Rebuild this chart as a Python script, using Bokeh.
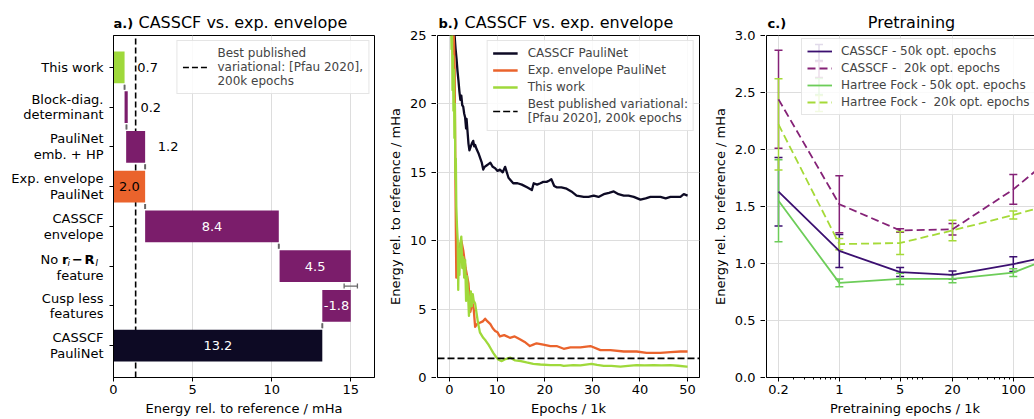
import numpy as np
from bokeh.plotting import figure
from bokeh.layouts import row, column
from bokeh.models import (ColumnDataSource, Range1d, FixedTicker, Legend, LegendItem,
                          Whisker, TeeHead, CustomJSTickFormatter)
from bokeh.core.properties import value
from bokeh.embed import file_html
from bokeh.resources import INLINE

FONT = "DejaVu Sans"

# ---------------- data: panel a (waterfall) ----------------
a_categories = ["CASSCF\nPauliNet", "Cusp less\nfeatures", "No r_i \u2212 R_I\nfeature",
                "CASSCF\nenvelope", "Exp. envelope\nPauliNet", "PauliNet\nemb. + HP",
                "Block-diag.\ndeterminant", "This work"]
a_left = [0.0, 13.2, 10.5, 2.0, 0.0, 0.8, 0.7, 0.0]
a_right = [13.2, 15.0, 15.0, 10.45, 2.0, 2.0, 0.9, 0.7]
a_bar_labels = ["13.2", "-1.8", "4.5", "8.4", "2.0", "1.2", "0.2", "0.7"]
a_conn_x = [13.2, 15.0, 10.45, 2.0, 2.0, 0.82, 0.7]
a_conn_err = [0.02, 0.42, 0.02, 0.02, 0.02, 0.02, 0.02]
best_published = 1.4

# ---------------- data: panel b (training curves, epoch in 1k, mHa) ----------------
casscf_curve = [(0.8, 27.0), (1.05, 25.2), (1.3, 24.0), (1.5, 23.3), (1.7, 22.4), (1.9, 21.7),
                (2.1, 20.9), (2.3, 20.3), (2.5, 20.6), (2.7, 19.9), (2.9, 19.8), (3.1, 19.3),
                (3.3, 19.0), (3.5, 18.2), (3.6, 18.9), (3.8, 18.0), (4.0, 17.1), (4.2, 16.6),
                (4.4, 16.8), (4.7, 17.1), (5.0, 17.3), (5.2, 16.9), (5.4, 17.0), (5.7, 16.7),
                (6.1, 16.4), (6.5, 16.0), (6.8, 15.7), (7.1, 15.2), (7.4, 15.4), (7.8, 15.5),
                (8.2, 15.6), (8.6, 15.7), (9.1, 15.4), (9.6, 15.3), (10.1, 15.1), (10.6, 15.2),
                (11.2, 15.0), (11.7, 15.4), (12.4, 14.6), (13.4, 14.2), (14.3, 14.2), (15.2, 14.1),
                (16.3, 13.9), (17.3, 13.7), (17.7, 14.2), (18.4, 14.1), (19.1, 14.2), (19.7, 14.3),
                (20.4, 14.3), (21.0, 14.4), (21.4, 14.5), (22.0, 14.0), (22.5, 13.9), (23.5, 13.9),
                (24.6, 13.8), (25.6, 13.6), (26.7, 13.3), (28.2, 13.2), (29.2, 13.2), (30.3, 13.3),
                (31.3, 13.2), (32.4, 13.4), (33.5, 13.5), (34.5, 13.6), (35.5, 13.4), (36.6, 13.3),
                (37.6, 13.3), (38.7, 13.2), (40.1, 13.0), (41.2, 13.1), (42.2, 13.2), (43.3, 13.2),
                (44.3, 13.2), (45.4, 13.1), (46.4, 13.2), (47.7, 13.2), (48.5, 13.2), (49.2, 13.4),
                (50.0, 13.3)]
exp_env_curve = [(0.7, 28.0), (0.95, 24.5), (1.1, 22.5), (1.25, 15.0), (1.35, 11.0), (1.45, 7.3),
                 (1.6, 9.5), (2.0, 9.5), (2.5, 10.0), (2.9, 9.3), (3.4, 8.0), (4.0, 6.9),
                 (4.4, 4.8), (4.8, 5.5), (5.1, 5.0), (5.4, 3.7), (5.8, 3.9), (6.4, 4.0),
                 (7.0, 4.1), (7.5, 4.3), (8.0, 4.1), (8.6, 3.9), (9.1, 3.6), (9.6, 3.4),
                 (10.1, 3.3), (10.6, 3.0), (11.5, 3.1), (12.7, 2.9), (13.7, 3.0), (14.8, 2.8),
                 (15.8, 2.6), (16.9, 2.3), (17.6, 2.4), (18.3, 2.5), (19.7, 2.4), (21.2, 2.3),
                 (22.5, 2.3), (24.0, 2.1), (25.4, 2.2), (27.5, 2.2), (29.6, 2.3), (31.7, 2.0),
                 (33.8, 2.0), (36.6, 1.9), (39.3, 1.9), (41.4, 1.8), (44.3, 1.8), (46.4, 1.85),
                 (48.5, 1.9), (50.0, 1.9)]
this_work_curve = [(0.3, 27.0), (0.45, 24.0), (0.55, 25.5), (0.65, 21.0), (0.75, 23.5), (0.85, 19.5),
                   (0.95, 22.5), (1.05, 17.5), (1.15, 20.0), (1.25, 14.5), (1.35, 16.0), (1.45, 12.5),
                   (1.6, 11.0), (1.75, 10.0), (1.85, 6.4), (1.95, 8.8), (2.1, 7.5), (2.3, 9.8),
                   (2.5, 10.3), (2.7, 8.0), (2.9, 8.8), (3.1, 7.3), (3.3, 8.6), (3.5, 5.6),
                   (3.7, 7.4), (3.9, 6.2), (4.1, 4.5), (4.3, 5.4), (4.5, 6.3), (4.7, 5.2),
                   (4.9, 6.1), (5.1, 5.6), (5.4, 5.4), (5.7, 4.7), (6.0, 4.0), (6.4, 3.3),
                   (7.1, 2.9), (7.6, 2.7), (8.2, 2.4), (8.7, 2.1), (9.2, 1.8), (9.8, 1.5),
                   (10.3, 1.3), (11.0, 1.2), (11.8, 1.35), (12.8, 1.45), (13.8, 1.25), (15.0, 1.2),
                   (16.2, 1.1), (17.6, 1.0), (19.1, 0.95), (21.2, 0.9), (23.3, 0.9), (24.0, 0.85),
                   (26.0, 0.9), (27.5, 0.88), (29.8, 1.0), (31.0, 0.92), (32.4, 0.85), (34.0, 0.85),
                   (35.9, 0.8), (37.5, 0.85), (39.3, 0.9), (41.0, 0.88), (42.9, 0.9), (44.5, 0.88),
                   (46.4, 0.9), (48.0, 0.86), (49.8, 0.8), (50.0, 0.8)]

# ---------------- data: panel c (pretraining) ----------------
pre_epochs = [0.2, 1, 5, 20, 100, 200]
pre_tick_labels = ["0.2", "1", "5", "20", "100"]
cas50_mean = [1.63, 1.11, 0.925, 0.90, 0.995, 1.045]
cas50_err = [0.30, 0.145, 0.04, 0.035, 0.065, 0.03]
cas20_mean = [2.44, 1.52, 1.29, 1.30, 1.65, 1.84]
cas20_err = [0.43, 0.25, 0.015, 0.05, 0.13, 0.11]
hf50_mean = [1.55, 0.83, 0.865, 0.866, 0.92, 1.01]
hf50_err = [0.36, 0.035, 0.05, 0.035, 0.035, 0.02]
hf20_mean = [2.22, 1.17, 1.18, 1.29, 1.425, 1.49]
hf20_err = [0.40, 0.05, 0.10, 0.09, 0.035, 0.11]

# ---------------- styling ----------------
FH = 342          # frame height (px)
TH = 34           # title strip height (px)
BB = 42           # bottom border (px)
GRID = "#dddddd"
C_DARK = "#0d0a24"
C_PURPLE = "#7b1d6b"
C_ORANGE = "#ea632c"
C_LIME = "#9fd93b"
a_colors = [C_DARK, C_PURPLE, C_PURPLE, C_PURPLE, C_ORANGE, C_PURPLE, C_PURPLE, C_LIME]
a_text_colors = ["white", "white", "white", "white", "black", "black", "black", "black"]


def style(p, xstandoff=3, ystandoff=5):
    for ax in p.axis:
        ax.major_label_text_font = FONT
        ax.major_label_text_font_size = "13px"
        ax.axis_label_text_font = FONT
        ax.axis_label_text_font_size = "13px"
        ax.axis_label_text_font_style = "normal"
        ax.major_tick_out = 4
        ax.major_tick_in = 0
        ax.minor_tick_line_color = None
        ax.axis_line_color = "black"
        ax.major_tick_line_color = "black"
        ax.major_label_text_color = "black"
        ax.axis_label_text_color = "black"
        ax.axis_label_standoff = 4
        ax.major_label_standoff = xstandoff if ax in p.xaxis else ystandoff
    p.outline_line_color = "black"
    p.outline_line_width = 1
    p.outline_line_alpha = 1
    p.xgrid.grid_line_color = GRID
    p.ygrid.grid_line_color = GRID


def blank_fig(frame_w, frame_h, x_range, y_range, left=0, right=0, top=0, bottom=0):
    f = figure(title=None, frame_width=frame_w, frame_height=frame_h, x_range=x_range, y_range=y_range,
               output_backend="svg", toolbar_location=None,
               min_border_left=left, min_border_right=right, min_border_top=top,
               min_border_bottom=bottom, x_axis_location=None, y_axis_location=None)
    f.outline_line_color = None
    f.grid.grid_line_color = None
    f.background_fill_color = "white"
    f.border_fill_color = "white"
    return f


def title_fig(frame_w, left, right, items):
    # strip above a panel whose frame coincides horizontally with the panel frame;
    # x in px from the frame's left edge, y = text centre in px from the strip bottom
    t = blank_fig(frame_w, TH, Range1d(0, frame_w), Range1d(0, TH), left=left, right=right)
    for text, x, size, bold, align in items:
        yc = TH - (22.0 if not bold else 22.5)
        t.text(x=[x], y=[yc], text=[text], text_font=value(FONT), text_font_size=size,
               text_font_style="bold" if bold else "normal", text_align=align,
               text_baseline="middle", text_color="black")
    return t


def axis_fig(y_range, left, ticks, label, formatter=None):
    # separate full-height strip carrying the y axis, so the top tick label has room
    f = figure(title=None, frame_width=1, frame_height=FH, x_range=Range1d(0, 1), y_range=y_range,
               output_backend="svg", toolbar_location=None, min_border_left=left,
               min_border_right=0, min_border_top=TH + 1, min_border_bottom=BB,
               x_axis_location=None)
    f.outline_line_color = None
    f.grid.grid_line_color = None
    f.background_fill_color = "white"
    f.border_fill_color = "white"
    ax = f.yaxis[0]
    ax.ticker = FixedTicker(ticks=ticks)
    if formatter is not None:
        ax.formatter = formatter
    ax.axis_label = label
    ax.major_label_text_font = FONT
    ax.major_label_text_font_size = "13px"
    ax.axis_label_text_font = FONT
    ax.axis_label_text_font_size = "13px"
    ax.axis_label_text_font_style = "normal"
    ax.major_tick_out = 4
    ax.major_tick_in = 1
    ax.minor_tick_line_color = None
    ax.axis_line_color = None
    ax.major_tick_line_color = "black"
    ax.major_label_text_color = "black"
    ax.axis_label_text_color = "black"
    ax.axis_label_standoff = 4
    ax.major_label_standoff = 5
    return f


def make_legend(items, location, line_h=1.2, standoff=10):
    return Legend(items=items, location=location, padding=5, margin=5, spacing=3,
                  glyph_width=25, glyph_height=14, label_height=14, label_standoff=standoff,
                  label_text_font=FONT, label_text_font_size="12px",
                  label_text_line_height=line_h,
                  border_line_color="#cccccc", border_line_width=1,
                  background_fill_color="white", background_fill_alpha=0.85)


# ================= panel a =================
A_LAB_W = 104
pa = figure(title=None, frame_width=261, frame_height=FH, x_range=Range1d(0, 16.5),
            y_range=Range1d(-0.8, 7.8),
            output_backend="svg", toolbar_location=None, min_border_left=9, min_border_right=10,
            min_border_top=1, min_border_bottom=BB)
idx = list(range(len(a_categories)))
src_a = ColumnDataSource(dict(y=idx, left=a_left, right=a_right, color=a_colors))
best_a = pa.line(x=[best_published, best_published], y=[-0.8, 7.8], line_color="black",
                 line_dash="6 3", line_width=1.6)
pa.hbar(y="y", left="left", right="right", height=0.8, fill_color="color", line_color=None, source=src_a)

inside = [i for i in idx if (a_right[i] - a_left[i]) > 1.5]
outside = [i for i in idx if (a_right[i] - a_left[i]) <= 1.5]
src_in = ColumnDataSource(dict(x=[(a_left[i] + a_right[i]) / 2 for i in inside], y=inside,
                               text=[a_bar_labels[i] for i in inside],
                               c=[a_text_colors[i] for i in inside]))
src_out = ColumnDataSource(dict(x=[a_right[i] + 0.8 for i in outside], y=outside,
                                text=[a_bar_labels[i] for i in outside],
                                c=[a_text_colors[i] for i in outside]))
pa.text(x="x", y="y", text="text", text_color="c", source=src_in, text_align="center",
        text_baseline="middle", text_font=value(FONT), text_font_size="13px")
pa.text(x="x", y="y", text="text", text_color="c", source=src_out, text_align="left",
        text_baseline="middle", text_font=value(FONT), text_font_size="13px")

conn_y = [i + 0.5 for i in range(len(a_conn_x))]
src_conn = ColumnDataSource(dict(y=conn_y, lo=[x - e for x, e in zip(a_conn_x, a_conn_err)],
                                 hi=[x + e for x, e in zip(a_conn_x, a_conn_err)]))
pa.add_layout(Whisker(base="y", lower="lo", upper="hi", dimension="width", source=src_conn,
                      line_color="#666666", line_width=1.3, level="overlay",
                      upper_head=TeeHead(size=5, line_color="#666666", line_width=1.3),
                      lower_head=TeeHead(size=5, line_color="#666666", line_width=1.3)))

pa.add_layout(make_legend([LegendItem(label="Best published\nvariational: [Pfau 2020],\n200k epochs",
                                      renderers=[best_a])], "top_right", line_h=1.05))
style(pa, 3, 0)
pa.ygrid.grid_line_color = None
pa.xaxis.ticker = FixedTicker(ticks=[0, 5, 10, 15])
pa.xaxis.axis_label = "Energy rel. to reference / mHa"
pa.yaxis.ticker = FixedTicker(ticks=idx)
pa.yaxis.major_label_overrides = {i: "" for i in idx}

# category labels strip (left of panel a), sharing the y range
la = blank_fig(A_LAB_W, FH, Range1d(0, A_LAB_W), pa.y_range, top=1, bottom=BB)
regular = [i for i in idx if i != 2]
src_cat = ColumnDataSource(dict(x=[A_LAB_W - 1] * len(regular), y=regular,
                                text=[a_categories[i] for i in regular]))
la.text(x="x", y="y", text="text", source=src_cat, text_align="right", text_baseline="middle",
        text_font=value(FONT), text_font_size="13px", text_line_height=1.05, text_color="black")
# "No r_i - R_I / feature" with bold vectors and subscripts
pieces = [("No", 40, "13px", "normal", -7), ("r", 61.5, "13px", "bold", -7),
          ("i", 67.0, "9px", "italic", -3), ("\u2212", 71.5, "13px", "bold", -7),
          ("R", 84, "13px", "bold", -7), ("I", 95, "9px", "italic", -3)]
for txt, px, size, st, off in pieces:
    la.text(x=[px], y=[2], text=[txt], text_align="left", text_baseline="middle", y_offset=off,
            text_font=value(FONT), text_font_size=size, text_font_style=st, text_color="black")
la.text(x=[A_LAB_W - 1], y=[2], text=["feature"], text_align="right", text_baseline="middle",
        y_offset=9, text_font=value(FONT), text_font_size="13px", text_color="black")

ta = title_fig(261, A_LAB_W + 9, 10, [("a.)", 0, "13px", True, "left"),
                                      ("CASSCF vs. exp. envelope", 25, "16px", False, "left")])
panel_a = column(ta, row(la, pa))

# ================= panel b =================
pb = figure(title=None, frame_width=262, frame_height=FH, x_range=Range1d(-2.5, 52.5),
            y_range=Range1d(0, 25), y_axis_location=None,
            output_backend="svg", toolbar_location=None, min_border_left=1, min_border_right=10,
            min_border_top=1, min_border_bottom=BB)
rb = []
for curve, col in [(casscf_curve, C_DARK), (exp_env_curve, C_ORANGE), (this_work_curve, C_LIME)]:
    xs = [c[0] for c in curve]
    ys = [c[1] for c in curve]
    rb.append(pb.line(xs, ys, line_color=col, line_width=2.3, line_join="round"))
best_b = pb.line(x=[-2.5, 52.5], y=[best_published, best_published], line_color="black",
                 line_dash="7 3", line_width=1.6)
pb.add_layout(make_legend([
    LegendItem(label="CASSCF PauliNet", renderers=[rb[0]]),
    LegendItem(label="Exp. envelope PauliNet", renderers=[rb[1]]),
    LegendItem(label="This work", renderers=[rb[2]]),
    LegendItem(label="Best published variational:\n[Pfau 2020], 200k epochs", renderers=[best_b]),
], "top_right", line_h=1.05))
style(pb, 3, 5)
b_yticks = [0, 5, 10, 15, 20, 25]
pb.xaxis.ticker = FixedTicker(ticks=[0, 10, 20, 30, 40, 50])
pb.ygrid.ticker = FixedTicker(ticks=b_yticks)
pb.xaxis.axis_label = "Epochs / 1k"
yb = axis_fig(pb.y_range, 48, b_yticks, "Energy rel. to reference / mHa")
tb = title_fig(262, 1, 10, [("b.)", 1, "13px", True, "left"),
                            ("CASSCF vs. exp. envelope", 27, "16px", False, "left")])
panel_b = row(yb, column(tb, pb))

# ================= panel c =================
CFW = 277
LOG_LO, LOG_HI = -0.837, 2.347
pc = figure(title=None, frame_width=CFW, frame_height=FH, x_axis_type="log",
            x_range=Range1d(10 ** LOG_LO, 10 ** LOG_HI), y_range=Range1d(0, 3.0),
            y_axis_location=None, output_backend="svg", toolbar_location=None,
            min_border_left=1, min_border_right=0, min_border_top=1, min_border_bottom=BB)
series_c = [
    ("CASSCF - 50k opt. epochs", cas50_mean, cas50_err, "#3b0f70", "solid"),
    ("CASSCF -  20k opt. epochs", cas20_mean, cas20_err, "#852277", "8 4"),
    ("Hartree Fock - 50k opt. epochs", hf50_mean, hf50_err, "#6dcd59", "solid"),
    ("Hartree Fock -  20k opt. epochs", hf20_mean, hf20_err, "#a5da38", "8 4"),
]
items_c = []
for name, mean, err, col, dash in series_c:
    src = ColumnDataSource(dict(x=pre_epochs, y=mean, lo=[m - e for m, e in zip(mean, err)],
                                hi=[m + e for m, e in zip(mean, err)]))
    r = pc.line("x", "y", source=src, line_color=col, line_width=1.8, line_dash=dash)
    pc.add_layout(Whisker(base="x", lower="lo", upper="hi", dimension="height", source=src,
                          line_color=col, line_width=1.5,
                          upper_head=TeeHead(size=8, line_color=col, line_width=1.5),
                          lower_head=TeeHead(size=8, line_color=col, line_width=1.5)))
    items_c.append(LegendItem(label=name, renderers=[r]))

LEG_X = 35
LEG_H = 2 * 5 + 4 * 14 + 3 * 3
pc.add_layout(make_legend(items_c, (LEG_X, FH - 5 - LEG_H), standoff=9))
# error-bar symbols drawn inside the legend entries (legend-space px -> data coords)
gx_px = LEG_X + 5 + 12.5
gx = 10 ** (LOG_LO + gx_px / CFW * (LOG_HI - LOG_LO))
for i, (name, mean, err, col, dash) in enumerate(series_c):
    cy_px = FH - 5 - 5 - 7 - i * 17
    s = ColumnDataSource(dict(x=[gx], lo=[(cy_px - 8) / FH * 3.0], hi=[(cy_px + 8) / FH * 3.0]))
    pc.add_layout(Whisker(base="x", lower="lo", upper="hi", dimension="height", source=s,
                          line_color=col, line_width=1.5, level="overlay",
                          upper_head=TeeHead(size=8, line_color=col, line_width=1.5),
                          lower_head=TeeHead(size=8, line_color=col, line_width=1.5)))

style(pc, 3, 5)
c_yticks = [0, 0.5, 1.0, 1.5, 2.0, 2.5, 3.0]
pc.xaxis.ticker = FixedTicker(ticks=pre_epochs[:len(pre_tick_labels)],
                              minor_ticks=[0.3, 0.4, 0.5, 0.6, 0.7, 0.8, 0.9, 2, 3, 4, 6, 7, 8, 9,
                                           30, 40, 50, 60, 70, 80, 90, 200])
pc.xaxis.formatter = CustomJSTickFormatter(code="return String(tick);")
pc.xaxis.minor_tick_line_color = "black"
pc.xaxis.minor_tick_out = 2
pc.xaxis.minor_tick_in = 0
pc.ygrid.ticker = FixedTicker(ticks=c_yticks)
pc.xaxis.axis_label = "Pretraining epochs / 1k"
yc = axis_fig(pc.y_range, 49, c_yticks, "Energy rel. to reference / mHa",
              CustomJSTickFormatter(code="return tick.toFixed(1);"))
tc = title_fig(CFW, 1, 0, [("c.)", 1, "13px", True, "left"),
                           ("Pretraining", 145, "16px", False, "center")])
panel_c = row(yc, column(tc, pc))

layout = row(panel_a, panel_b, panel_c)
open("out.html", "w").write(file_html(layout, INLINE))
